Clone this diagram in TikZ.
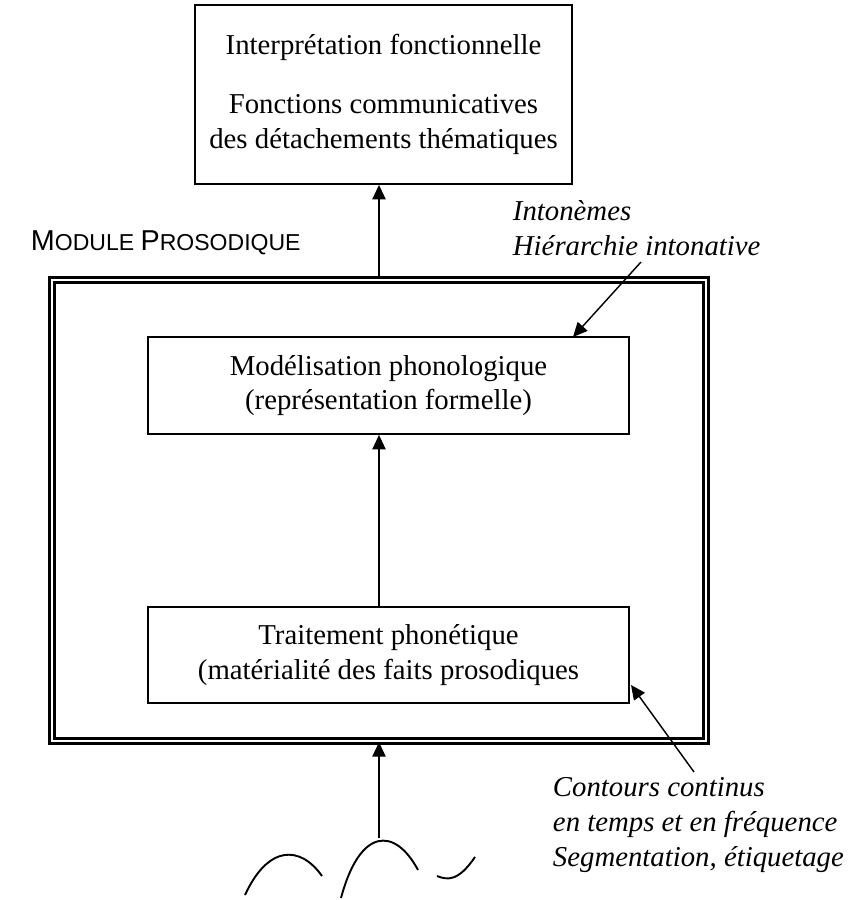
\documentclass[tikz,border=0pt]{standalone}
\usepackage{fontspec}
\setmainfont{Liberation Serif}
\newfontfamily\arialfont{Liberation Sans}
\usetikzlibrary{arrows.meta}

\begin{document}
\begin{tikzpicture}[x=0.417pt,y=-0.417pt,line width=0.8pt]
                \tikzstyle{boite}=[rectangle,draw=black,align=center,inner sep=0pt,font=\fontsize{12}{14.5}\selectfont]
                \tikzstyle{cadre}=[rectangle,draw=black,double,double distance=1pt,line width=1pt,minimum width=272.7pt,minimum height=192.2pt]
                \tikzstyle{fleche}=[-{Triangle[length=6pt,width=5.5pt]},line width=0.6pt]
                \tikzstyle{etiquette}=[anchor=west,align=left,inner sep=0pt,font=\fontsize{12}{14.5}\selectfont\itshape]
                \useasboundingbox (0,0) rectangle (863,900);

                % boites
                \node[boite,minimum width=157.2pt,minimum height=74.6pt] (interp) at (383.5,94.5)
                        {Interprétation fonctionnelle\\[10pt]Fonctions communicatives\\des détachements thématiques};
                \node[cadre] (module) at (379,510.5) {};
                \node[boite,minimum width=200.6pt,minimum height=40.4pt] (modele) at (388.5,385.5)
                        {Modélisation phonologique\\(représentation formelle)};
                \node[boite,minimum width=200.6pt,minimum height=40pt] (phon) at (388.5,655)
                        {Traitement phonétique\\(matérialité des faits prosodiques};

                % etiquettes
                \node[anchor=west,inner sep=0pt] (titre) at (30,243)
                        {\arialfont\fontsize{12}{14}\selectfont M\fontsize{9.6}{12}\selectfont ODULE \fontsize{12}{14}\selectfont P\fontsize{9.6}{12}\selectfont ROSODIQUE};
                \node[etiquette] (intonemes) at (512,228) {Intonèmes\\Hiérarchie intonative};
                \node[etiquette] (contours) at (552,825) {Contours continus\\en temps et en fréquence\\Segmentation, étiquetage};

                \coordinate (d-into) at (641,262);
                \coordinate (d-cont) at (694,772);
                \coordinate (signal) at (379,838);

                % fleches
                \draw[fleche] (module.north) -- (module.north |- interp.south);
                \draw[fleche] (module.north |- phon.north) -- (module.north |- modele.south);
                \draw[fleche] (signal) -- (module.south);
                \draw[fleche] (d-into) -- (573,337);
                \draw[fleche] (d-cont) -- (631,685);

                % courbes
                \draw (245,895) .. controls (268,845) and (300,845) .. (322,876);
                \draw (341,898) .. controls (360,827) and (395,827) .. (418,870);
                \draw (437,876) .. controls (447,880) and (458,882) .. (475,857);
\end{tikzpicture}
\end{document}
